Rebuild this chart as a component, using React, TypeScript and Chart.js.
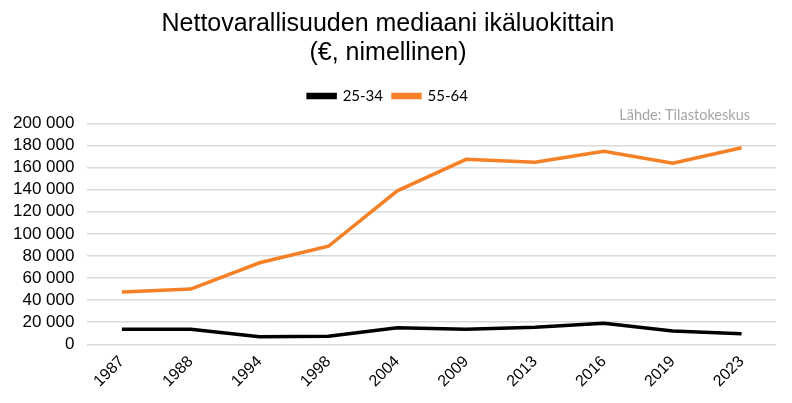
import React, { useEffect, useRef } from "react";
import { Chart, registerables } from "chart.js";

Chart.register(...registerables);

const years = ["1987", "1988", "1994", "1998", "2004", "2009", "2013", "2016", "2019", "2023"];
const age2534 = [13600, 13600, 6700, 7300, 15000, 13700, 15500, 19000, 12000, 9500];
const age5564 = [47300, 50000, 73800, 88800, 139000, 167500, 165000, 174800, 164000, 178000];
const titleLines = ["Nettovarallisuuden mediaani ikäluokittain", "(€, nimellinen)"];
const sourceText = "Lähde: Tilastokeskus";

const sourcePlugin = {
  id: "sourceText",
  afterDraw(chart: any) {
    const { ctx, chartArea } = chart;
    ctx.save();
    ctx.font = "14.5px Lato, 'Open Sans', sans-serif";
    ctx.fillStyle = "#a6a6a6";
    ctx.textAlign = "right";
    ctx.textBaseline = "middle";
    ctx.fillText(sourceText, chartArea.right - 26, chartArea.top - 8);
    ctx.restore();
  },
};

export default function App() {
  const ref = useRef<HTMLCanvasElement>(null);
  useEffect(() => {
    if (!ref.current) return;
    const chart = new Chart(ref.current, {
      type: "line",
      data: {
        labels: years,
        datasets: [
          { label: "25-34", data: age2534, borderColor: "#000000", backgroundColor: "#000000", borderWidth: 3.5, pointRadius: 0, tension: 0 },
          { label: "55-64", data: age5564, borderColor: "#F58025", backgroundColor: "#F58025", borderWidth: 3.5, pointRadius: 0, tension: 0 },
        ],
      },
      plugins: [sourcePlugin],
      options: {
        animation: false,
        responsive: false,
        layout: { padding: { left: 0, right: 16, top: 8, bottom: 4 } },
        plugins: {
          title: {
            display: true,
            text: titleLines,
            color: "#000",
            font: { family: "Liberation Sans, Arial", size: 25, weight: "normal", lineHeight: 1.15 },
            padding: { top: 2, bottom: 11 },
          },
          legend: {
            display: true,
            labels: {
              boxWidth: 27,
              boxHeight: 3,
              color: "#000",
              font: { family: "Lato, Open Sans", size: 15 },
              padding: 10,
            },
          },
          subtitle: {
            display: true,
            text: sourceText,
            align: "end",
            position: "top",
            weight: 500,
            color: "rgba(0,0,0,0)",
            font: { family: "Lato, Open Sans", size: 10, weight: "normal", lineHeight: 1.0 },
            padding: { top: 0, bottom: 0 },
          },
          tooltip: { enabled: false },
        },
        scales: {
          x: {
            offset: true,
            grid: { display: false, drawTicks: false },
            border: { display: false },
            ticks: {
              color: "#000",
              font: { family: "Liberation Sans, Arial", size: 16 },
              maxRotation: 45,
              minRotation: 45,
              padding: 8,
              autoSkip: false,
            },
          },
          y: {
            min: 0,
            max: 200000,
            grid: { color: "#d9d9d9", lineWidth: 1.5, drawTicks: false },
            border: { display: false },
            ticks: {
              stepSize: 20000,
              autoSkip: false,
              color: "#000",
              padding: 13,
              font: { family: "Liberation Sans, Arial", size: 17 },
              callback: (v: any) => {
                const n = Number(v);
                if (n === 0) return "0";
                return `${Math.floor(n / 1000)} 000`;
              },
            },
          },
        },
      },
    });
    return () => chart.destroy();
  }, []);
  return (
    <div style={{ position: "absolute", left: 0, top: 0, width: 792, height: 403, background: "#fff" }}>
      <canvas ref={ref} width={792} height={403} style={{ width: 792, height: 403 }} />
    </div>
  );
}
